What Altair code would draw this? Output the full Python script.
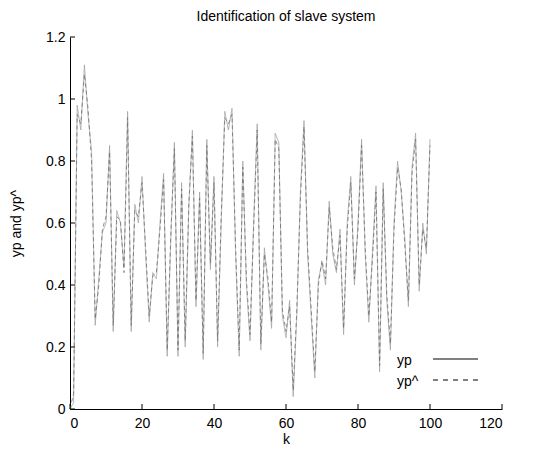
import altair as alt
import pandas as pd

k = list(range(0, 101))

yp = [0.00, 0.02, 0.98, 0.90, 1.11, 0.95, 0.83, 0.27, 0.42, 0.57,
      0.60, 0.85, 0.25, 0.64, 0.60, 0.46, 0.96, 0.25, 0.66, 0.60,
      0.75, 0.50, 0.28, 0.44, 0.42, 0.60, 0.76, 0.17, 0.55, 0.86,
      0.17, 0.73, 0.20, 0.65, 0.90, 0.33, 0.70, 0.16, 0.87, 0.45,
      0.75, 0.20, 0.60, 0.96, 0.90, 0.97, 0.50, 0.17, 0.80, 0.40,
      0.22, 0.60, 0.92, 0.19, 0.52, 0.40, 0.26, 0.89, 0.86, 0.30,
      0.23, 0.35, 0.04, 0.30, 0.70, 0.93, 0.50, 0.30, 0.10, 0.42,
      0.47, 0.40, 0.67, 0.50, 0.44, 0.58, 0.24, 0.60, 0.75, 0.40,
      0.60, 0.87, 0.50, 0.28, 0.50, 0.72, 0.12, 0.73, 0.35, 0.19,
      0.60, 0.80, 0.70, 0.55, 0.33, 0.78, 0.89, 0.38, 0.60, 0.50,
      0.87]

yp_hat = [0.00, 0.05, 0.95, 0.92, 1.08, 0.97, 0.80, 0.29, 0.40, 0.58,
          0.62, 0.83, 0.27, 0.62, 0.61, 0.44, 0.94, 0.27, 0.64, 0.62,
          0.73, 0.52, 0.30, 0.43, 0.44, 0.58, 0.74, 0.19, 0.56, 0.84,
          0.19, 0.71, 0.22, 0.66, 0.88, 0.35, 0.68, 0.18, 0.85, 0.47,
          0.73, 0.22, 0.62, 0.94, 0.92, 0.95, 0.52, 0.19, 0.78, 0.42,
          0.24, 0.58, 0.90, 0.21, 0.50, 0.42, 0.28, 0.87, 0.84, 0.32,
          0.25, 0.33, 0.06, 0.32, 0.68, 0.91, 0.52, 0.32, 0.12, 0.40,
          0.48, 0.42, 0.65, 0.52, 0.45, 0.56, 0.26, 0.58, 0.73, 0.42,
          0.58, 0.85, 0.52, 0.30, 0.48, 0.70, 0.14, 0.71, 0.37, 0.21,
          0.58, 0.78, 0.71, 0.53, 0.35, 0.76, 0.87, 0.40, 0.58, 0.52,
          0.85]

series_names = ["yp", "yp^"]
x_ticks = [0, 20, 40, 60, 80, 100, 120]
y_ticks = [0, 0.2, 0.4, 0.6, 0.8, 1.0, 1.2]

FONT = "Liberation Sans"
FS = 14
W, H = 432, 372

df = pd.concat([
    pd.DataFrame({"k": k, "value": yp, "series": series_names[0]}),
    pd.DataFrame({"k": k, "value": yp_hat, "series": series_names[1]}),
])

xscale = alt.Scale(domain=[0, 120], nice=False, zero=False)
yscale = alt.Scale(domain=[0, 1.2], nice=False)
common = dict(tickSize=0, grid=False, domainColor="black", domainWidth=1,
              labelColor="black", titleColor="black", labelFont=FONT,
              titleFont=FONT, labelFontSize=FS, titleFontSize=FS,
              titleFontWeight="normal")
xaxis = alt.Axis(values=x_ticks, labelPadding=7, titlePadding=2, **common)
yaxis = alt.Axis(values=y_ticks, labelPadding=5, titlePadding=22,
                 format="~g", **common)

lines = alt.Chart(df).mark_line(strokeWidth=0.8).encode(
    x=alt.X("k:Q", scale=xscale, title="k", axis=xaxis),
    y=alt.Y("value:Q", scale=yscale, title="yp and yp^", axis=yaxis),
    color=alt.Color("series:N", scale=alt.Scale(domain=series_names,
                    range=["#a0a0a0", "#707070"]), legend=None),
    strokeDash=alt.StrokeDash("series:N", scale=alt.Scale(domain=series_names,
                              range=[[1, 0], [4, 3]]), legend=None),
    order="k:Q",
)

xt = pd.DataFrame({"k": x_ticks})
yt = pd.DataFrame({"value": y_ticks})

xtick_layer = alt.Chart(xt).mark_rule(color="black", strokeWidth=1).encode(
    x=alt.X("k:Q", scale=xscale, title="k", axis=xaxis),
    y=alt.value(H), y2=alt.value(H - 5),
)
ytick_layer = alt.Chart(yt).mark_rule(color="black", strokeWidth=1).encode(
    y=alt.Y("value:Q", scale=yscale, title="yp and yp^", axis=yaxis),
    x=alt.value(0), x2=alt.value(5),
)

legend_layers = []
leg_y = [322, 343]
dashes = [[1, 0], [5, 5]]
for i, name in enumerate(series_names):
    ld = pd.DataFrame({"name": [name]})
    legend_layers.append(
        alt.Chart(ld).mark_text(align="left", baseline="middle", fontSize=FS,
                                font=FONT, color="black").encode(
            text="name:N", x=alt.value(327), y=alt.value(leg_y[i] + 2))
    )
    legend_layers.append(
        alt.Chart(ld).mark_rule(color="black", strokeWidth=1,
                                strokeDash=dashes[i]).encode(
            x=alt.value(363), x2=alt.value(408), y=alt.value(leg_y[i]))
    )

chart = alt.layer(lines, xtick_layer, ytick_layer, *legend_layers).properties(
    width=W, height=H,
    background="white",
    title=alt.TitleParams("Identification of slave system", fontSize=FS,
                          fontWeight="normal", font=FONT, offset=6,
                          anchor="middle", color="black"),
    autosize=alt.AutoSizeParams(type="none"),
    padding={"left": 62, "top": 29, "right": 23, "bottom": 40},
).configure_view(strokeOpacity=0, strokeWidth=0)

chart.save("out.html", embed_options={"renderer": "svg", "actions": False})
